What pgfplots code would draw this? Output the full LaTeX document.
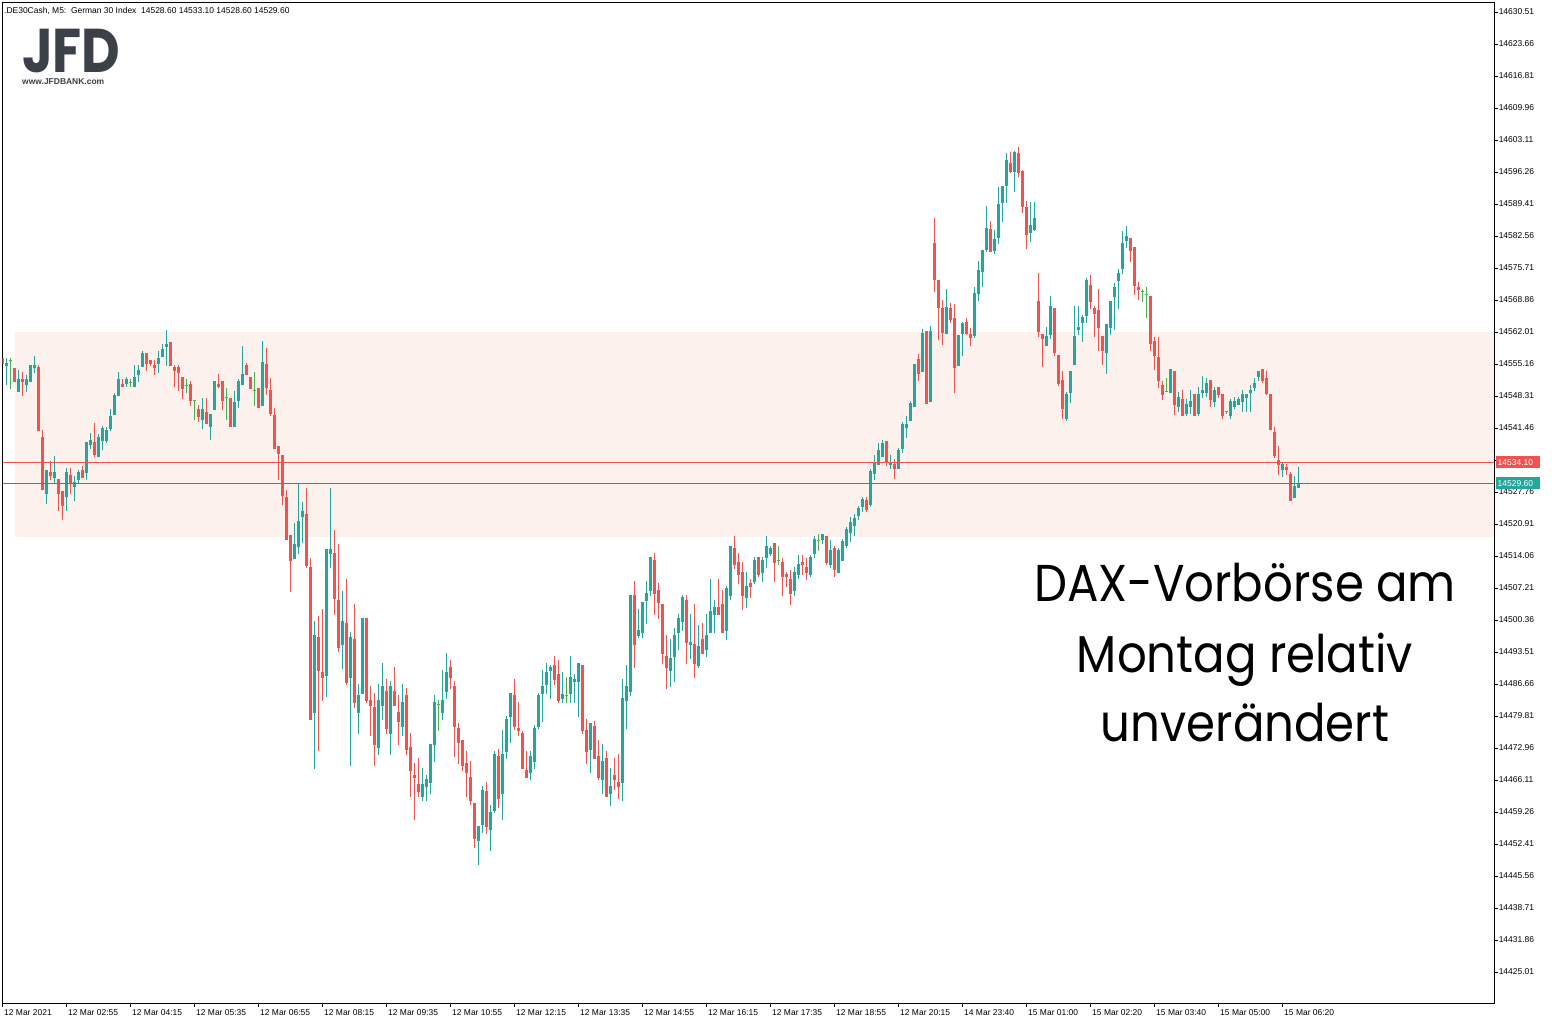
\documentclass[border=0pt]{standalone}
\usepackage{pgfplots}
\pgfplotsset{compat=1.18}
\usepackage{pgfplotstable}
\usepackage{fontspec}
\setmainfont{Liberation Sans}
\newfontfamily\bigfont{Poppins}
\definecolor{upc}{RGB}{38,166,154}
\definecolor{dnc}{RGB}{239,83,80}
\definecolor{dojic}{RGB}{76,175,80}
\definecolor{bandc}{RGB}{253,241,237}
\definecolor{linec}{RGB}{58,140,120}
\definecolor{logoc}{RGB}{60,64,72}
\pgfplotsset{
  up/.style={restrict expr to domain={\thisrow{t}}{0.5:1.5}},
  dn/.style={restrict expr to domain={\thisrow{t}}{1.5:2.5}},
  dj/.style={restrict expr to domain={\thisrow{t}}{-0.5:0.5}},
  cndl/.style 2 args={draw=none, mark=none, error bars/.cd, y dir=plus, y explicit, error mark=none, error bar style={draw=#2, line width=#1}},
}
\pgfplotstableread{
k O H L C t
0 14556.5 14556.5 14555.2 14555.2 2
1 14554.7 14556.5 14550.7 14555.4 1
2 14556.0 14556.5 14549.8 14556.0 0
3 14554.3 14554.3 14551.3 14551.3 2
4 14549.2 14553.9 14549.2 14552.0 1
5 14552.0 14553.5 14548.3 14551.3 2
6 14550.7 14552.8 14549.2 14552.0 1
7 14551.3 14555.0 14551.3 14555.0 1
8 14554.3 14556.9 14553.2 14555.0 1
9 14554.5 14555.0 14540.8 14540.8 2
10 14539.5 14541.0 14528.2 14528.2 2
11 14527.3 14532.5 14525.2 14532.5 1
12 14532.0 14534.4 14530.3 14531.2 2
13 14530.8 14535.5 14529.7 14532.0 1
14 14530.5 14530.5 14523.7 14527.3 2
15 14528.0 14528.0 14521.8 14524.8 2
16 14526.7 14532.9 14523.7 14532.0 1
17 14531.4 14532.9 14527.3 14529.5 2
18 14528.8 14531.2 14525.8 14529.9 1
19 14530.3 14532.5 14529.5 14532.0 1
20 14532.5 14533.3 14530.8 14530.8 2
21 14531.8 14538.5 14530.3 14538.5 1
22 14537.8 14540.4 14537.0 14538.9 1
23 14538.5 14542.5 14535.3 14535.7 2
24 14535.3 14540.2 14535.3 14539.5 1
25 14538.7 14541.9 14536.8 14541.5 1
26 14538.7 14541.7 14538.3 14541.0 1
27 14541.2 14545.5 14540.8 14544.0 1
28 14544.3 14549.0 14544.3 14548.5 1
29 14548.3 14553.5 14548.3 14552.0 1
30 14550.9 14552.0 14550.2 14550.2 2
31 14550.9 14552.4 14550.2 14552.0 1
32 14551.3 14552.0 14550.2 14551.3 0
33 14550.2 14555.0 14550.2 14552.4 1
34 14552.8 14555.0 14551.3 14553.9 1
35 14554.5 14558.0 14554.5 14557.5 1
36 14557.5 14557.5 14553.7 14555.2 2
37 14556.0 14556.0 14554.7 14555.2 2
38 14555.0 14556.0 14552.8 14554.3 2
39 14555.2 14558.0 14553.2 14556.5 1
40 14556.7 14559.4 14556.7 14558.4 1
41 14558.8 14562.4 14554.7 14559.4 1
42 14559.9 14559.9 14554.7 14554.7 2
43 14554.5 14555.0 14550.2 14553.7 2
44 14554.5 14555.0 14549.4 14553.2 2
45 14552.4 14552.4 14547.7 14549.8 2
46 14550.5 14552.0 14549.0 14550.5 0
47 14550.9 14551.5 14546.2 14547.3 2
48 14547.3 14547.5 14543.2 14547.3 0
49 14545.5 14546.4 14542.7 14543.8 2
50 14543.2 14547.9 14541.2 14545.5 1
51 14544.9 14547.9 14542.3 14542.3 2
52 14541.7 14544.5 14538.9 14544.5 1
53 14545.3 14551.5 14545.3 14551.5 1
54 14550.9 14553.0 14550.0 14550.2 2
55 14551.5 14551.5 14545.3 14547.3 2
56 14547.9 14550.0 14543.2 14547.9 0
57 14547.9 14547.9 14541.7 14541.7 2
58 14541.7 14549.4 14541.7 14547.0 1
59 14547.3 14552.0 14545.8 14551.5 1
60 14550.7 14559.0 14550.7 14553.0 1
61 14555.0 14555.4 14552.8 14552.8 2
62 14552.4 14552.4 14549.8 14549.8 2
63 14549.4 14553.5 14546.2 14549.4 0
64 14550.0 14550.0 14545.8 14545.8 2
65 14546.2 14560.1 14546.2 14555.6 1
66 14555.2 14558.6 14548.5 14550.0 2
67 14549.6 14552.2 14544.0 14544.5 2
68 14544.3 14545.8 14537.0 14537.0 2
69 14537.6 14537.6 14530.3 14535.9 2
70 14535.7 14535.7 14525.0 14526.9 2
71 14526.7 14528.2 14517.5 14517.5 2
72 14518.6 14518.6 14506.4 14513.0 2
73 14513.4 14521.1 14513.4 14516.6 1
74 14516.0 14529.5 14514.5 14521.6 1
75 14522.4 14525.6 14516.9 14523.7 1
76 14523.1 14528.6 14511.5 14511.9 2
77 14511.7 14513.6 14479.0 14479.0 2
78 14480.5 14500.2 14468.5 14497.2 1
79 14496.7 14501.2 14472.3 14489.5 2
80 14489.2 14502.7 14483.0 14488.0 2
81 14488.4 14515.6 14483.9 14515.6 1
82 14514.5 14528.6 14511.5 14515.6 1
83 14514.7 14519.6 14501.4 14504.9 2
84 14504.6 14516.6 14493.5 14494.4 2
85 14495.0 14506.6 14489.9 14500.2 1
86 14499.7 14509.1 14486.5 14486.9 2
87 14488.0 14497.8 14469.1 14496.7 1
88 14496.3 14503.8 14481.5 14482.6 2
89 14480.5 14486.7 14476.0 14484.3 1
90 14484.5 14500.8 14484.5 14500.8 1
91 14500.8 14500.8 14482.6 14483.0 2
92 14483.2 14486.2 14475.5 14482.0 2
93 14481.7 14484.7 14469.1 14473.6 2
94 14473.0 14486.7 14471.5 14483.2 1
95 14482.0 14491.2 14479.0 14486.2 1
96 14485.2 14487.7 14476.0 14477.0 2
97 14476.0 14487.3 14471.5 14486.2 1
98 14485.2 14490.3 14482.0 14482.0 2
99 14480.7 14484.3 14473.6 14478.5 2
100 14477.5 14486.7 14475.5 14482.8 1
101 14484.3 14485.8 14471.5 14472.5 2
102 14473.2 14476.2 14462.5 14468.0 2
103 14467.2 14469.8 14457.6 14466.5 2
104 14465.3 14470.8 14462.5 14463.5 2
105 14462.5 14468.7 14461.6 14465.3 1
106 14464.6 14467.2 14461.6 14466.3 1
107 14465.5 14473.8 14463.1 14473.8 1
108 14473.6 14484.3 14470.0 14482.8 1
109 14482.2 14483.2 14476.6 14482.2 0
110 14480.5 14489.7 14479.0 14483.2 1
111 14485.0 14493.3 14483.5 14489.2 1
112 14490.3 14491.8 14485.6 14488.0 2
113 14486.2 14487.3 14471.0 14477.5 2
114 14477.3 14478.3 14469.5 14474.0 2
115 14474.7 14474.7 14468.0 14469.1 2
116 14469.8 14472.3 14462.5 14467.6 2
117 14466.8 14470.2 14460.8 14461.6 2
118 14461.2 14461.2 14451.6 14453.5 2
119 14453.1 14456.3 14447.9 14456.3 1
120 14456.5 14464.8 14454.8 14464.0 1
121 14463.8 14465.7 14454.6 14456.1 2
122 14455.4 14460.8 14450.9 14459.3 1
123 14459.5 14472.3 14459.1 14471.7 1
124 14471.3 14472.8 14460.1 14462.0 2
125 14463.1 14476.8 14457.6 14471.7 1
126 14472.1 14479.8 14470.6 14479.2 1
127 14479.6 14484.7 14474.0 14484.7 1
128 14484.3 14487.7 14476.8 14477.5 2
129 14477.3 14482.8 14475.5 14476.6 2
130 14476.2 14476.6 14468.5 14468.5 2
131 14468.3 14472.3 14466.5 14466.5 2
132 14467.6 14472.3 14466.1 14471.3 1
133 14470.0 14477.9 14468.5 14477.3 1
134 14477.5 14484.7 14477.0 14484.3 1
135 14484.5 14489.7 14478.5 14486.2 1
136 14486.5 14491.2 14484.5 14489.2 1
137 14489.5 14490.7 14483.5 14490.3 1
138 14490.7 14492.7 14486.5 14487.5 2
139 14488.8 14491.8 14482.6 14483.0 2
140 14483.5 14489.2 14482.6 14484.5 1
141 14484.3 14488.2 14482.6 14484.3 0
142 14484.5 14492.7 14482.6 14488.2 1
143 14487.1 14488.8 14482.6 14487.7 1
144 14487.1 14491.2 14479.6 14491.2 1
145 14490.7 14490.7 14476.0 14476.6 2
146 14476.8 14479.2 14469.5 14472.1 2
147 14472.5 14478.3 14467.6 14478.3 1
148 14477.7 14478.8 14470.6 14470.6 2
149 14471.3 14474.7 14466.1 14466.5 2
150 14466.1 14473.8 14463.1 14470.2 1
151 14470.8 14472.3 14462.5 14462.5 2
152 14463.1 14468.7 14460.6 14464.8 1
153 14467.2 14470.8 14464.0 14466.1 2
154 14465.7 14471.7 14462.0 14464.6 2
155 14465.5 14487.7 14461.6 14483.7 1
156 14483.0 14490.7 14477.0 14486.2 1
157 14485.0 14505.7 14484.1 14505.7 1
158 14505.7 14508.7 14490.1 14495.0 2
159 14496.9 14502.7 14496.5 14498.2 1
160 14497.6 14504.2 14496.5 14504.2 1
161 14504.4 14508.7 14499.5 14506.2 1
162 14506.6 14513.9 14505.5 14513.9 1
163 14513.2 14514.7 14501.4 14505.9 2
164 14506.8 14508.3 14500.6 14504.0 2
165 14503.8 14503.8 14490.9 14493.1 2
166 14492.7 14497.2 14485.6 14490.1 2
167 14489.5 14496.3 14486.0 14492.2 1
168 14492.4 14498.7 14487.1 14497.2 1
169 14497.6 14501.6 14493.9 14500.8 1
170 14499.9 14505.7 14498.0 14505.3 1
171 14504.6 14505.7 14490.9 14495.4 2
172 14495.0 14501.6 14492.0 14495.7 1
173 14495.2 14503.8 14488.0 14490.9 2
174 14490.5 14499.3 14490.1 14494.8 1
175 14496.3 14499.7 14493.1 14493.1 2
176 14493.9 14501.6 14492.4 14497.2 1
177 14497.6 14509.1 14497.6 14502.3 1
178 14501.4 14504.6 14497.6 14503.1 1
179 14503.1 14509.1 14501.4 14501.4 2
180 14503.8 14506.8 14497.6 14497.6 2
181 14498.0 14507.7 14496.1 14507.2 1
182 14505.5 14516.2 14504.6 14516.2 1
183 14515.8 14518.4 14511.3 14512.1 2
184 14512.8 14514.7 14508.1 14510.0 2
185 14510.6 14512.8 14502.5 14505.5 2
186 14505.1 14510.6 14502.9 14507.7 1
187 14508.3 14509.1 14505.1 14507.4 2
188 14508.5 14513.9 14508.1 14513.2 1
189 14513.9 14513.9 14509.6 14510.0 2
190 14510.4 14513.9 14508.5 14513.2 1
191 14513.6 14518.4 14511.5 14516.2 1
192 14514.5 14516.2 14514.1 14515.8 1
193 14516.9 14516.9 14508.5 14512.6 2
194 14513.2 14516.2 14512.1 14513.2 0
195 14512.8 14513.6 14505.5 14509.6 2
196 14510.2 14510.6 14507.4 14509.6 2
197 14509.1 14511.1 14503.6 14505.9 2
198 14506.6 14511.7 14505.5 14510.6 1
199 14510.0 14514.3 14509.1 14512.4 1
200 14512.8 14514.3 14510.0 14512.1 2
201 14511.7 14513.6 14508.9 14510.4 2
202 14510.0 14514.3 14509.6 14513.9 1
203 14514.5 14518.4 14513.6 14517.7 1
204 14517.3 14518.8 14515.1 14517.3 0
205 14517.5 14518.8 14516.6 14518.8 1
206 14518.4 14518.4 14512.1 14512.6 2
207 14512.1 14517.5 14511.5 14515.4 1
208 14515.8 14516.2 14509.6 14511.1 2
209 14510.4 14515.8 14510.4 14515.4 1
210 14513.0 14517.7 14513.0 14517.3 1
211 14516.2 14520.3 14515.8 14519.8 1
212 14519.0 14522.4 14517.1 14521.3 1
213 14520.5 14523.1 14518.4 14522.2 1
214 14522.6 14524.8 14521.8 14524.3 1
215 14524.6 14526.7 14523.5 14526.3 1
216 14526.1 14526.7 14523.5 14523.9 2
217 14525.0 14532.7 14524.6 14532.3 1
218 14531.6 14535.7 14530.3 14534.2 1
219 14533.5 14538.3 14533.5 14536.8 1
220 14535.3 14538.9 14535.3 14538.3 1
221 14538.7 14538.7 14533.3 14534.0 2
222 14533.5 14535.7 14532.7 14534.2 1
223 14533.8 14534.8 14530.5 14532.7 2
224 14532.7 14537.2 14532.7 14536.8 1
225 14537.0 14542.7 14536.1 14542.3 1
226 14541.5 14544.0 14539.3 14542.3 1
227 14543.0 14547.3 14543.0 14546.8 1
228 14546.0 14555.2 14546.0 14555.2 1
229 14556.2 14557.3 14551.5 14553.0 2
230 14553.5 14562.7 14553.5 14561.8 1
231 14562.2 14562.2 14546.6 14546.6 2
232 14547.0 14563.3 14547.0 14562.2 1
233 14581.1 14586.4 14570.6 14573.1 2
234 14573.1 14573.1 14560.3 14567.2 2
235 14567.2 14568.9 14559.2 14561.8 2
236 14561.6 14571.2 14561.6 14567.4 1
237 14567.2 14568.2 14563.9 14564.6 2
238 14565.0 14568.0 14549.0 14554.3 2
239 14554.7 14561.4 14554.7 14561.4 1
240 14561.6 14564.2 14556.9 14563.9 1
241 14564.2 14565.0 14561.4 14561.6 2
242 14561.6 14562.9 14559.0 14560.7 2
243 14561.2 14571.6 14560.7 14570.4 1
244 14570.1 14577.2 14568.7 14575.3 1
245 14574.9 14579.6 14571.6 14579.6 1
246 14579.6 14589.0 14579.1 14584.3 1
247 14584.1 14585.8 14579.1 14579.1 2
248 14579.4 14583.9 14578.7 14581.9 1
249 14582.1 14593.1 14580.9 14589.4 1
250 14589.6 14593.3 14585.6 14593.3 1
251 14593.3 14600.3 14589.6 14598.8 1
252 14598.2 14600.5 14596.1 14596.3 2
253 14596.3 14600.8 14592.0 14600.5 1
254 14600.3 14601.6 14595.2 14596.1 2
255 14596.5 14596.7 14587.5 14588.8 2
256 14588.8 14590.1 14579.8 14582.8 2
257 14583.2 14589.8 14581.3 14584.9 1
258 14583.9 14589.8 14583.6 14586.4 1
259 14568.7 14574.6 14560.9 14562.0 2
260 14561.6 14561.6 14554.5 14560.5 2
261 14559.0 14563.1 14559.0 14561.2 1
262 14561.4 14569.7 14560.5 14567.6 1
263 14567.2 14567.2 14556.9 14557.5 2
264 14557.1 14557.1 14550.5 14550.9 2
265 14551.7 14553.7 14543.4 14545.5 2
266 14543.4 14549.2 14543.0 14548.7 1
267 14549.0 14553.7 14546.8 14553.7 1
268 14555.0 14567.6 14555.0 14561.2 1
269 14562.4 14567.6 14561.4 14563.1 1
270 14563.9 14565.7 14559.9 14565.2 1
271 14565.4 14573.6 14563.9 14573.1 1
272 14572.1 14574.2 14566.9 14568.4 2
273 14567.2 14567.6 14560.9 14565.9 2
274 14566.7 14571.2 14558.0 14562.9 2
275 14561.2 14561.2 14555.0 14558.0 2
276 14557.5 14563.7 14553.0 14563.7 1
277 14562.9 14568.7 14561.4 14568.7 1
278 14569.5 14572.5 14562.4 14571.6 1
279 14572.9 14575.5 14566.9 14574.6 1
280 14575.5 14583.6 14574.4 14581.1 1
281 14581.5 14584.7 14580.0 14582.6 1
282 14582.1 14582.1 14577.0 14579.4 2
283 14580.2 14580.2 14569.9 14571.9 2
284 14571.6 14572.7 14568.9 14571.0 2
285 14570.6 14571.2 14568.4 14570.6 0
286 14570.1 14571.6 14565.0 14570.1 0
287 14569.7 14569.7 14558.0 14559.4 2
288 14560.1 14560.9 14553.9 14556.9 2
289 14556.7 14560.9 14550.0 14551.5 2
290 14550.7 14551.5 14547.5 14548.5 2
291 14549.2 14552.2 14549.2 14549.2 0
292 14549.0 14554.1 14549.0 14554.1 1
293 14553.7 14553.7 14544.3 14546.4 2
294 14546.0 14549.2 14544.9 14548.1 1
295 14547.7 14549.6 14544.0 14544.0 2
296 14544.5 14547.7 14544.0 14546.6 1
297 14546.0 14549.6 14544.5 14547.3 1
298 14548.7 14548.7 14544.0 14544.0 2
299 14544.5 14550.2 14544.0 14548.7 1
300 14549.0 14552.6 14547.9 14549.6 1
301 14549.0 14552.2 14548.1 14551.1 1
302 14551.7 14551.7 14546.0 14547.5 2
303 14547.0 14550.2 14546.0 14549.6 1
304 14550.2 14550.2 14547.9 14548.5 2
305 14548.7 14548.7 14543.4 14544.0 2
306 14544.9 14545.1 14544.5 14544.9 0
307 14544.0 14547.7 14543.4 14547.3 1
308 14546.0 14548.1 14545.5 14547.3 1
309 14546.4 14548.1 14546.4 14547.7 1
310 14547.0 14549.6 14544.9 14548.7 1
311 14547.9 14548.7 14544.9 14548.7 1
312 14549.0 14550.7 14544.9 14549.6 1
313 14550.0 14552.2 14549.4 14551.1 1
314 14552.4 14553.7 14551.5 14553.7 1
315 14554.1 14554.1 14551.1 14551.5 2
316 14552.2 14553.7 14548.5 14548.7 2
317 14548.7 14548.7 14541.0 14541.0 2
318 14540.6 14541.7 14535.0 14535.5 2
319 14534.6 14537.6 14531.4 14533.5 2
320 14532.5 14534.2 14531.0 14533.8 1
321 14533.1 14533.8 14531.4 14532.5 2
322 14531.6 14532.0 14525.8 14525.8 2
323 14526.5 14531.2 14526.5 14529.1 1
324 14528.6 14533.1 14528.6 14529.6 1
}\candles
\newcommand\tf{\fontsize{8.5}{10}\selectfont}
\begin{document}
\begin{tikzpicture}[x=1bp,y=1bp]
\useasboundingbox (0,0) rectangle (1552,-1025);
\fill[white] (0,0) rectangle (1552,-1025);
\begin{axis}[
  at={(2.5bp,-1003bp)}, anchor=south west, scale only axis,
  width=1491.5bp, height=1000.5bp,
  xmin=0, xmax=372.875, ymin=14418.38, ymax=14632.54,
  axis line style={line width=1bp, black},
  tick style={line width=1bp, black},
  tick align=outside, major tick length=4bp,
  xtick pos=bottom, ytick pos=right, yticklabel pos=right,
  xtick={0,16,...,320},
  xticklabels={12 Mar 2021,12 Mar 02:55,12 Mar 04:15,12 Mar 05:35,12 Mar 06:55,12 Mar 08:15,12 Mar 09:35,12 Mar 10:55,12 Mar 12:15,12 Mar 13:35,12 Mar 14:55,12 Mar 16:15,12 Mar 17:35,12 Mar 18:55,12 Mar 20:15,14 Mar 23:40,15 Mar 01:00,15 Mar 02:20,15 Mar 03:40,15 Mar 05:00,15 Mar 06:20},
  xticklabel style={font=\tf, anchor=north west, inner sep=0pt, xshift=1.5bp, yshift=-2.5bp},
  ytick={14425.01,14431.86,14438.71,14445.56,14452.41,14459.26,14466.11,14472.96,14479.81,14486.66,14493.51,14500.36,14507.21,14514.06,14520.91,14527.76,14534.61,14541.46,14548.31,14555.16,14562.01,14568.86,14575.71,14582.56,14589.41,14596.26,14603.11,14609.96,14616.81,14623.66,14630.51},
  yticklabels={14425.01,14431.86,14438.71,14445.56,14452.41,14459.26,14466.11,14472.96,14479.81,14486.66,14493.51,14500.36,14507.21,14514.06,14520.91,14527.76,14534.61,14541.46,14548.31,14555.16,14562.01,14568.86,14575.71,14582.56,14589.41,14596.26,14603.11,14609.96,14616.81,14623.66,14630.51},
  yticklabel style={font=\tf, anchor=west, inner sep=0pt, xshift=0.5bp},
]
\fill[bandc] (axis cs:3.2,14518.09) rectangle (axis cs:372.875,14562.01);
% wicks
\addplot[up, cndl={1bp}{upc}] table[x=k, y=L, y error expr=\thisrow{H}-\thisrow{L}] {\candles};
\addplot[dn, cndl={1bp}{dnc}] table[x=k, y=L, y error expr=\thisrow{H}-\thisrow{L}] {\candles};
\addplot[dj, cndl={1bp}{dojic}] table[x=k, y=L, y error expr=\thisrow{H}-\thisrow{L}] {\candles};
% bodies
\addplot[up, cndl={3bp}{upc}] table[x=k, y=O, y error expr=\thisrow{C}-\thisrow{O}] {\candles};
\addplot[dn, cndl={3bp}{dnc}] table[x=k, y=C, y error expr=\thisrow{O}-\thisrow{C}] {\candles};
\addplot[dojic, dj, only marks, mark=-, mark size=1.5bp, mark options={line width=1bp}] table[x=k, y=O] {\candles};
\draw[dnc, line width=1bp] (axis cs:0,14534.10) -- (axis cs:372.875,14534.10);
\draw[linec, line width=1bp] (axis cs:0,14529.60) -- (axis cs:372.875,14529.60);
\end{axis}
\node[fill=dnc, text=white, font=\tf, inner xsep=2bp, inner ysep=0pt, text width=40bp, minimum height=12bp, anchor=west] at (1495.5,-462.4) {14534.10};
\node[fill=upc, text=white, font=\tf, inner xsep=2bp, inner ysep=0pt, text width=40bp, minimum height=12bp, anchor=west] at (1495.5,-483.4) {14529.60};
\node[anchor=base west, inner sep=0pt, font=\tf] at (4,-13) {.DE30Cash, M5:\ \ German 30 Index\ \ 14528.60 14533.10 14528.60 14529.60};
\node[anchor=base west, inner sep=0pt, text=logoc, xscale=0.86] at (22,-72) {\raisebox{0pt}[\height][0pt]{\bigfont\bfseries\fontsize{62}{62}\selectfont JFD}};
\node[anchor=base west, inner sep=0pt, text=logoc] at (22,-84) {\bfseries\fontsize{8.5}{9}\selectfont www.JFDBANK.com};
\node[anchor=base, inner sep=0pt, xscale=0.9] at (1245,-601) {\bigfont\fontsize{52}{60}\selectfont DAX-Vorbörse am};
\node[anchor=base, inner sep=0pt, xscale=0.9] at (1245,-672) {\bigfont\fontsize{52}{60}\selectfont Montag relativ};
\node[anchor=base, inner sep=0pt, xscale=0.9] at (1245,-741) {\bigfont\fontsize{52}{60}\selectfont unverändert};
\end{tikzpicture}
\end{document}
